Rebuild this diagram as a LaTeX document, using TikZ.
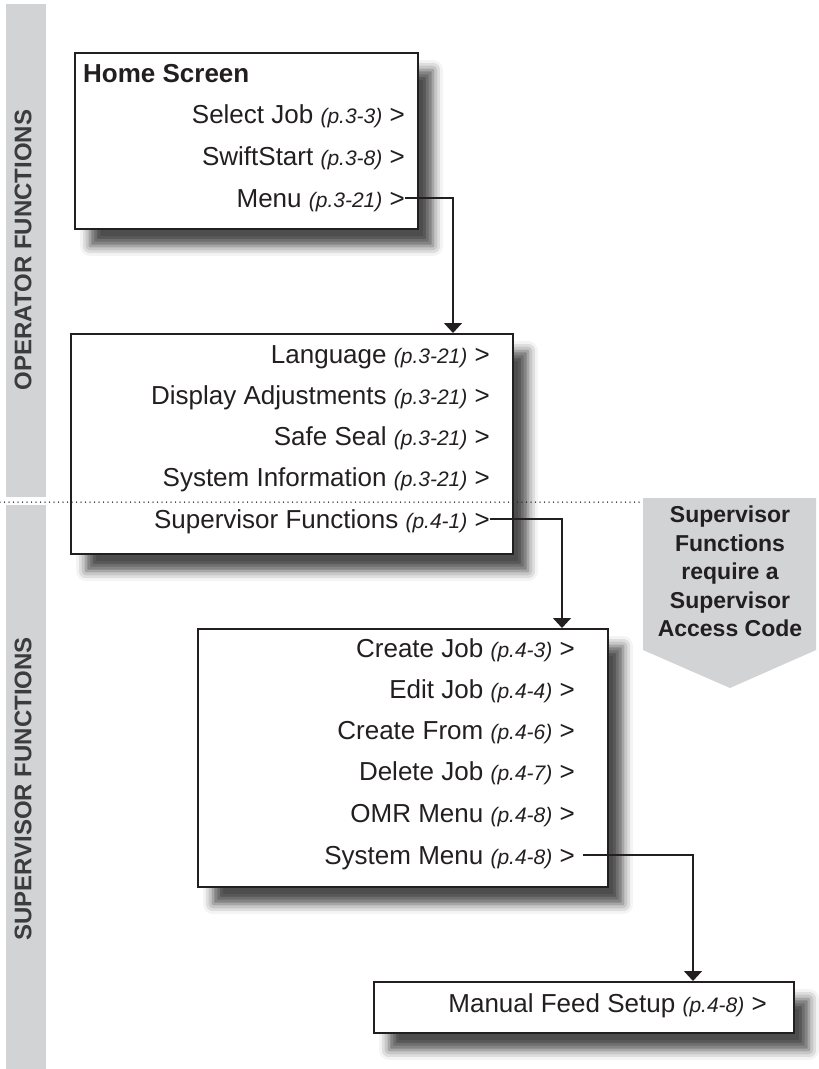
\documentclass[tikz,border=0pt]{standalone}
\usepackage{fontspec}
\setmainfont{Liberation Sans}
\usetikzlibrary{arrows.meta,positioning,calc,shadows.blur}
\definecolor{ink}{RGB}{35,31,32}
\definecolor{bargrey}{RGB}{209,211,212}
\definecolor{bartext}{RGB}{60,60,62}
\newcommand{\pg}[1]{{\fontsize{21}{24}\selectfont\itshape(p.#1)}}
\begin{document}
\begin{tikzpicture}[x=1pt,y=-1pt,
  menubox/.style={draw=ink,line width=2pt,fill=white,inner sep=0pt,anchor=north west,
    blur shadow={shadow xshift=15pt,shadow yshift=-17pt,shadow blur radius=10pt,shadow opacity=70}},
  item/.style={anchor=base east,inner sep=0pt,text height=18pt,text depth=0pt,
    font=\fontsize{26}{30}\selectfont,text=ink},
  conn/.style={draw=ink,line width=1.6pt,-{Triangle[length=10pt,width=18pt]}},
  bar/.style={fill=bargrey,inner sep=0pt,minimum width=40pt,anchor=north west},
  barlabel/.style={rotate=90,font=\fontsize{24}{28}\selectfont\bfseries,text=bartext}
]
\useasboundingbox (0,0) rectangle (819,1069);
% side bars
\node[bar,minimum height=493pt] (opbar) at (6,4) {};
\node[bar,minimum height=564pt] (supbar) at (6,505) {};
\node[barlabel] (oplabel) at (23,250) {OPERATOR FUNCTIONS};
\node[barlabel] (suplabel) at (23,789) {SUPERVISOR FUNCTIONS};
% callout
\fill[bargrey] (643,498) -- (816,498) -- (816,650) -- (730,688) -- (643,650) -- cycle;
\node[anchor=north,inner sep=0pt,align=center,text=ink,
  font=\fontsize{23}{28.5}\selectfont\bfseries] (access) at (730,506)
  {Supervisor\\Functions\\require a\\Supervisor\\Access Code};
% boxes
\node[menubox,minimum width=343pt,minimum height=176pt] (home) at (74,52) {};
\node[menubox,minimum width=442pt,minimum height=220pt] (opmenu) at (70,333) {};
\node[menubox,minimum width=410pt,minimum height=258pt] (supmenu) at (197,628) {};
\node[menubox,minimum width=420pt,minimum height=51pt] (feed) at (373,981) {};
% home screen
\node[anchor=base west,inner sep=0pt,text=ink,font=\fontsize{26}{30}\selectfont\bfseries]
  (homehead) at (83,82) {Home Screen};
\node[item] (selectjob) at (405,123) {Select Job \pg{3-3} >};
\node[item] (swift) at (405,165) {SwiftStart \pg{3-8} >};
\node[item] (menu) at (405,207) {Menu \pg{3-21} >};
% operator menu
\node[item] (lang) at (490,363) {Language \pg{3-21} >};
\node[item] (display) at (490,404) {Display Adjustments \pg{3-21} >};
\node[item] (seal) at (490,445) {Safe Seal \pg{3-21} >};
\node[item] (sysinfo) at (490,486) {System Information \pg{3-21} >};
\node[item] (supfn) at (490,528) {Supervisor Functions \pg{4-1} >};
% supervisor menu
\node[item] (createjob) at (575,657) {Create Job \pg{4-3} >};
\node[item] (editjob) at (575,698) {Edit Job \pg{4-4} >};
\node[item] (createfrom) at (575,739) {Create From \pg{4-6} >};
\node[item] (deletejob) at (575,780) {Delete Job \pg{4-7} >};
\node[item] (omr) at (575,822) {OMR Menu \pg{4-8} >};
\node[item] (sysmenu) at (575,864) {System Menu \pg{4-8} >};
% manual feed
\node[item] (manual) at (767,1012) {Manual Feed Setup \pg{4-8} >};
% separator
\coordinate (sepleft) at (0,502);
\draw[ink,line width=1.5pt,line cap=round,dash pattern=on 0pt off 4.5pt]
  (sepleft) -- (sepleft -| 643,0);
% connectors
\draw[conn] (menu.east) -| ($(opmenu.north west)+(383,0)$);
\draw[conn] (supfn.east) -| ($(supmenu.north west)+(365,0)$);
\draw[conn] ([xshift=8pt]sysmenu.east) -| ($(feed.north west)+(320,0)$);
\end{tikzpicture}
\end{document}
